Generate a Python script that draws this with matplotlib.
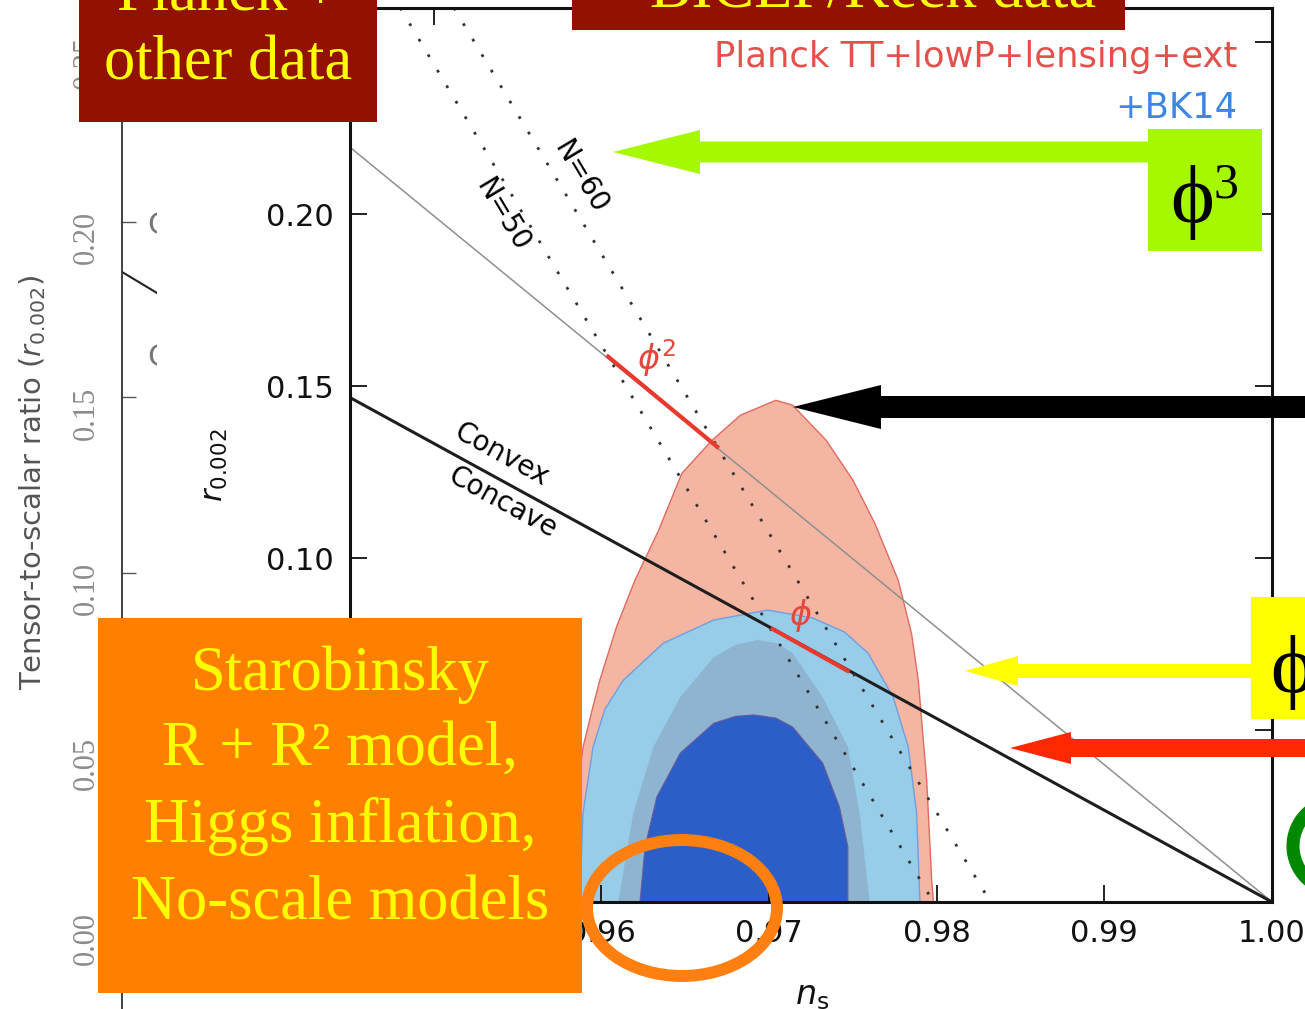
import matplotlib
matplotlib.use("Agg")
import matplotlib.pyplot as plt
from matplotlib.patches import Polygon, Rectangle, FancyArrow, Ellipse

# contour outlines (n_s, r)
red95_ns = [0.9575, 0.9582, 0.9589, 0.9594, 0.9599, 0.9609, 0.9620, 0.9634, 0.9648, 0.9666, 0.9683,
            0.9704, 0.9714, 0.9734, 0.9750, 0.9763, 0.9777, 0.9785, 0.9789, 0.9794, 0.9797, 0.9798]
red95_r = [0.0, 0.020, 0.045, 0.055, 0.0645, 0.080, 0.0936, 0.108, 0.1247, 0.1343, 0.1416,
           0.1459, 0.1445, 0.1343, 0.1227, 0.1102, 0.0936, 0.078, 0.0645, 0.0355, 0.0064, 0.0]

blue95_ns = [0.9587, 0.9589, 0.9595, 0.9602, 0.9613, 0.9637, 0.9667, 0.9699, 0.9726, 0.9745,
             0.9759, 0.9774, 0.9783, 0.9788, 0.9790]
blue95_r = [0.0, 0.0259, 0.0451, 0.056, 0.0645, 0.0753, 0.0820, 0.0849, 0.0826, 0.0785,
            0.0724, 0.0596, 0.0451, 0.0259, 0.0]

red68_ns = [0.9610, 0.9619, 0.9631, 0.9647, 0.9667, 0.9680, 0.9693, 0.9705, 0.9714, 0.9732,
            0.9747, 0.9754, 0.9760]
red68_r = [0.0, 0.0259, 0.0451, 0.0596, 0.0712, 0.0748, 0.0762, 0.0752, 0.0724, 0.0596,
           0.0451, 0.0259, 0.0]

blue68_ns = [0.9623, 0.9626, 0.9633, 0.9647, 0.9667, 0.9680, 0.9691, 0.9704, 0.9714, 0.9732,
             0.9742, 0.9747, 0.9747]
blue68_r = [0.0, 0.0160, 0.0305, 0.0433, 0.0520, 0.0540, 0.0544, 0.0535, 0.0509, 0.0404,
            0.0276, 0.0160, 0.0]

# model lines
phi2_line_ns = [0.945, 1.0]
phi2_line_r = [0.2195, 0.0]
convex_ns = [0.945, 1.0]
convex_r = [0.1467, 0.0]
n50_ns = [0.9480, 0.9798]
n50_r = [0.26, 0.0]
n60_ns = [0.9512, 0.9832]
n60_r = [0.26, 0.0]
phi2_seg_ns = [0.9603, 0.9670]
phi2_seg_r = [0.1590, 0.1320]
phi1_seg_ns = [0.9701, 0.9748]
phi1_seg_r = [0.0797, 0.0669]

xticks = [0.95, 0.96, 0.97, 0.98, 0.99, 1.00]
yticks = [0.00, 0.05, 0.10, 0.15, 0.20, 0.25]
old_yticks = [0.00, 0.05, 0.10, 0.15, 0.20, 0.25]
# labels that sit under the slide boxes are not visible
hidden_x = [0.95]
hidden_y = [0.00, 0.05, 0.25]

W, H = 1305, 1009
fig = plt.figure(figsize=(W / 100, H / 100), dpi=100)
fig.patch.set_facecolor("white")

# old plot peeking out at the left
ax_old = fig.add_axes([122 / W, 0, 35 / W, 1], zorder=0)
ax_old.set_xlim(0, 1)
ax_old.set_ylim(-86 / 3504, 923 / 3504)
for s in ["top", "right", "bottom"]:
    ax_old.spines[s].set_visible(False)
ax_old.spines["left"].set_linewidth(1.3)
ax_old.spines["left"].set_color("#333333")
ax_old.set_xticks([])
ax_old.set_yticks(old_yticks)
ax_old.set_yticklabels(["%.2f" % v for v in old_yticks])
ax_old.tick_params(axis="y", direction="in", length=10, width=1, color="#555555",
                   labelsize=22, labelcolor="#8c8c8c", labelrotation=90, pad=15)
for lab in ax_old.get_yticklabels():
    lab.set_fontfamily("Liberation Serif")
ax_old.plot([0, 1], [0.1858, 0.1798], color="#222222", lw=1.5, clip_on=True)
ax_old.text(0.72, 0.1992, "C", fontsize=22, color="#777777", ha="left", va="center", clip_on=True)
ax_old.text(0.72, 0.1615, "C", fontsize=22, color="#777777", ha="left", va="center", clip_on=True)
fig.text(33 / W, 1 - 482 / H, r"Tensor-to-scalar ratio $(r_{0.002})$", rotation=90,
         fontsize=21, color="#555555", ha="center", va="center")

# main Planck panel
ax = fig.add_axes([350 / W, 107 / H, 922 / W, 894 / H], zorder=1)
ax.set_facecolor("white")
ax.set_xlim(0.945, 1.0)
ax.set_ylim(0, 0.26)

ax.add_patch(Polygon(list(zip(red95_ns, red95_r)), closed=True, fc="#f4b6a2", ec="#e06a62", lw=1.0))
ax.add_patch(Polygon(list(zip(blue95_ns, blue95_r)), closed=True, fc="#98cde9", ec="#6f9fe0", lw=1.0))
ax.add_patch(Polygon(list(zip(red68_ns, red68_r)), closed=True, fc="#8fb4d0", ec="none"))
ax.add_patch(Polygon(list(zip(blue68_ns, blue68_r)), closed=True, fc="#2b5fc7", ec="#6a5a9e", lw=0.8))

ax.plot(phi2_line_ns, phi2_line_r, color="#8f8f8f", lw=1.1)
ax.plot(convex_ns, convex_r, color="#1e1e1e", lw=2.2)
ax.plot(n50_ns, n50_r, color="#333333", lw=2, ls=(0, (1, 5.5)))
ax.plot(n60_ns, n60_r, color="#333333", lw=2, ls=(0, (1, 5.5)))
ax.plot(phi2_seg_ns, phi2_seg_r, color="#e8392c", lw=3, solid_capstyle="butt")
ax.plot(phi1_seg_ns, phi1_seg_r, color="#e8392c", lw=3, solid_capstyle="butt")

ax.set_xticks(xticks)
ax.set_xticklabels(["" if v in hidden_x else "%.2f" % v for v in xticks])
ax.set_yticks(yticks)
ax.set_yticklabels(["" if v in hidden_y else "%.2f" % v for v in yticks])
ax.tick_params(direction="in", length=12, width=1.3, labelsize=22, pad=12,
               top=True, right=True, colors="#111111")
for s in ax.spines.values():
    s.set_linewidth(2.2)
    s.set_color("#111111")

# overlay in pixel coordinates (y down)
ov = fig.add_axes([0, 0, 1, 1], zorder=10)
ov.set_xlim(0, W)
ov.set_ylim(H, 0)
ov.axis("off")

# labels of the Planck panel
ov.text(812, 995, r"$n_{\rm s}$", fontsize=24, ha="center", va="center", color="#111111")
ov.text(215, 465, r"$r_{0.002}$", fontsize=22, rotation=90, ha="center", va="center", color="#111111")
ov.text(1237, 67, "Planck TT+lowP+lensing+ext", fontsize=25.5, color="#e5504c", ha="right", va="baseline")
ov.text(1237, 118, "+BK14", fontsize=25.5, color="#3f86e4", ha="right", va="baseline")
ov.text(502, 215, "N=50", fontsize=20, rotation=-59.2, rotation_mode="anchor", ha="center", va="center")
ov.text(580, 177, "N=60", fontsize=20, rotation=-59.2, rotation_mode="anchor", ha="center", va="center")
ov.text(502, 455, "Convex", fontsize=20, rotation=-28.7, rotation_mode="anchor", ha="center", va="center")
ov.text(503, 503, "Concave", fontsize=20, rotation=-28.7, rotation_mode="anchor", ha="center", va="center")
ov.text(657, 358, r"$\phi^2$", fontsize=24, color="#e8453c", ha="center", va="center")
ov.text(800, 615, r"$\phi$", fontsize=24, color="#e8453c", ha="center", va="center")

# slide annotations
serif = ["Liberation Serif", "DejaVu Serif"]
ov.add_patch(Rectangle((79, 0), 298, 122, fc="#921100", ec="none"))
ov.text(228, 10, "Planck +", fontsize=45, family=serif, color="#ffff00", ha="center", va="baseline")
ov.text(228, 80, "other data", fontsize=45, family=serif, color="#ffff00", ha="center", va="baseline")
ov.add_patch(Rectangle((572, 0), 553, 30, fc="#921100", ec="none"))
ov.text(848, 7, "+ BICEP/Keck data", fontsize=45, family=serif, color="#ffff00", ha="center", va="baseline")

ov.add_patch(FancyArrow(1200, 152, -587, 0, width=21, head_width=44, head_length=87,
                        length_includes_head=True, fc="#a6f800", ec="none"))
ov.add_patch(Rectangle((1148, 129), 114, 122, fc="#a6f800", ec="none"))
ov.text(1192, 222, "ϕ", fontsize=60, family=serif, color="black", ha="center", va="baseline")
ov.text(1214, 198, "3", fontsize=36, family=serif, color="black", ha="left", va="baseline")

ov.add_patch(FancyArrow(1330, 407, -537, 0, width=22, head_width=44, head_length=88,
                        length_includes_head=True, fc="black", ec="none"))

ov.add_patch(FancyArrow(1260, 671, -295, 0, width=14, head_width=30, head_length=53,
                        length_includes_head=True, fc="#ffff00", ec="none"))
ov.add_patch(Rectangle((1251, 597), 60, 122, fc="#ffff00", ec="none"))
ov.text(1292, 692, "ϕ", fontsize=60, family=serif, color="black", ha="center", va="baseline")

ov.add_patch(FancyArrow(1330, 748, -320, 0, width=18, head_width=32, head_length=61,
                        length_includes_head=True, fc="#ff2800", ec="none"))

ov.add_patch(Ellipse((1338, 846), 90, 90, fill=False, ec="#008800", lw=9.4))

ov.add_patch(Rectangle((98, 618), 484, 375, fc="#ff7f00", ec="none"))
for txt, yb in [("Starobinsky", 690), ("R + R² model,", 765),
                ("Higgs inflation,", 842), ("No-scale models", 920)]:
    ov.text(340, yb, txt, fontsize=45, family=serif, color="#ffff00", ha="center", va="baseline")

ov.add_patch(Ellipse((682, 908), 190, 136, fill=False, ec="#ff7f11", lw=8.6))

fig.savefig("out.png", dpi=100)
